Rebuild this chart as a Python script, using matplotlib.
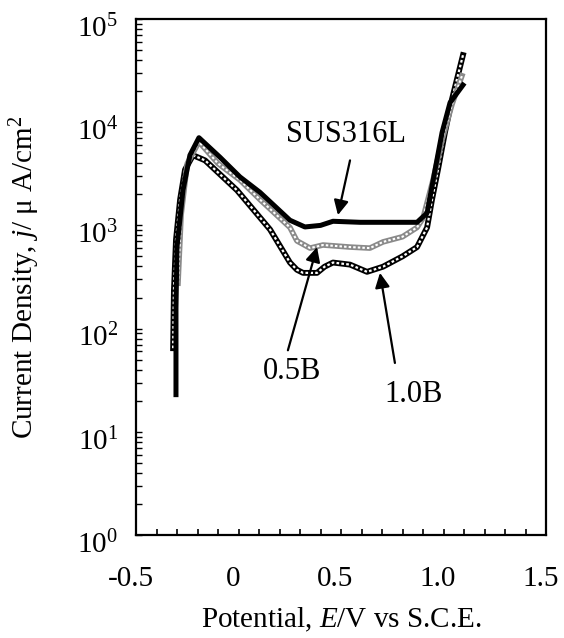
import numpy as np
import matplotlib
matplotlib.use("Agg")
import matplotlib.pyplot as plt
import matplotlib.transforms as mtransforms
from matplotlib.ticker import FixedLocator, LogLocator, NullFormatter

plt.rcParams["font.family"] = ["Liberation Serif", "DejaVu Serif"]
plt.rcParams["mathtext.fontset"] = "custom"
plt.rcParams["mathtext.rm"] = "Liberation Serif"
plt.rcParams["mathtext.it"] = "Liberation Serif:italic"

# --- data (potential in V vs SCE, current density in uA/cm2) ---
sus_E = [-0.305, -0.305, -0.300, -0.271, -0.237, -0.193, -0.090, 0.007, 0.105, 0.251,
         0.324, 0.400, 0.461, 0.593, 0.739, 0.871, 0.920, 0.959, 0.993, 1.032, 1.095]
sus_logj = [1.36, 2.20, 2.79, 3.34, 3.68, 3.85, 3.66, 3.47, 3.32, 3.05,
            2.985, 3.00, 3.04, 3.03, 3.03, 3.03, 3.12, 3.54, 3.90, 4.19, 4.36]

b05_E = [-0.295, -0.280, -0.250, -0.193, -0.100, 0.007, 0.105, 0.251, 0.285, 0.349,
         0.412, 0.544, 0.641, 0.705, 0.800, 0.871, 0.900, 0.949, 0.993, 1.041, 1.090]
b05_logj = [2.44, 3.10, 3.60, 3.81, 3.60, 3.44, 3.25, 2.98, 2.85, 2.78,
            2.81, 2.79, 2.78, 2.84, 2.89, 2.98, 3.07, 3.44, 3.83, 4.17, 4.45]

b10_E = [-0.319, -0.315, -0.305, -0.285, -0.261, -0.222, -0.163, -0.007, 0.154, 0.251,
         0.285, 0.315, 0.383, 0.420, 0.461, 0.544, 0.627, 0.705, 0.800, 0.871, 0.920,
         0.944, 0.973, 1.007, 1.041, 1.095]
b10_logj = [1.81, 2.37, 2.86, 3.25, 3.54, 3.68, 3.63, 3.34, 2.96, 2.64,
            2.57, 2.54, 2.54, 2.60, 2.64, 2.62, 2.55, 2.60, 2.70, 2.79, 2.98,
            3.25, 3.54, 3.90, 4.22, 4.65]

sus_j = 10 ** np.array(sus_logj)
b05_j = 10 ** np.array(b05_logj)
b10_j = 10 ** np.array(b10_logj)

fig = plt.figure(figsize=(5.64, 6.38), dpi=100)
ax = fig.add_axes([136 / 564, 1 - 535 / 638, 410 / 564, 516 / 638])

# 1.0B : hollow black markers -> black chain with white core
ax.plot(b10_E, b10_j, color="black", lw=4.2, solid_joinstyle="round", zorder=2)
ax.plot(b10_E, b10_j, color="white", lw=1.6, linestyle=(0, (1.2, 1.0)), zorder=3)
# 0.5B : grey hollow markers
ax.plot(b05_E, b05_j, color="#8a8a8a", lw=4.0, solid_joinstyle="round", zorder=4)
ax.plot(b05_E, b05_j, color="white", lw=1.5, linestyle=(0, (1.2, 1.0)), zorder=5)
# SUS316L : solid thick black
ax.plot(sus_E, sus_j, color="black", lw=3.6, solid_joinstyle="round", zorder=6)

ax.set_xlim(-0.5, 1.5)
ax.set_yscale("log")
ax.set_ylim(1, 1e5)

ax.xaxis.set_major_locator(FixedLocator([-0.5, 0, 0.5, 1.0, 1.5]))
ax.set_xticklabels(["-0.5", "0", "0.5", "1.0", "1.5"])
ax.xaxis.set_minor_locator(FixedLocator(np.round(np.arange(-0.4, 1.45, 0.1), 2)))
ax.yaxis.set_major_locator(FixedLocator([1, 10, 100, 1e3, 1e4, 1e5]))
ax.set_yticklabels([r"$10^{%d}$" % n for n in range(6)])
ax.yaxis.set_minor_locator(LogLocator(base=10, subs=np.arange(2, 10)))
ax.yaxis.set_minor_formatter(NullFormatter())

ax.tick_params(axis="x", which="both", direction="in", length=4, width=1.2,
               top=False, labelsize=21, pad=22)
ax.tick_params(axis="y", which="both", direction="in", length=4, width=1.0,
               right=False, labelsize=21, pad=13)
for s in ax.spines.values():
    s.set_linewidth(1.6)

# tick labels in the original sit a little left / below their ticks
xoff = mtransforms.ScaledTranslation(-4 / 72, 0, fig.dpi_scale_trans)
for lab in ax.get_xticklabels():
    lab.set_transform(lab.get_transform() + xoff)
yoff = mtransforms.ScaledTranslation(0, -5 / 72, fig.dpi_scale_trans)
for lab in ax.get_yticklabels():
    lab.set_transform(lab.get_transform() + yoff)

ax.set_xlabel(r"Potential, $E$/V vs S.C.E.", fontsize=21)
ax.xaxis.set_label_coords(0.5, -0.138)
ax.set_ylabel(r"Current Density, $j$/ μ A/cm$^2$", fontsize=21)
ax.yaxis.set_label_coords(-0.229, 0.5)

arrow = dict(arrowstyle="-|>", color="black", lw=1.6, mutation_scale=22,
             shrinkA=0, shrinkB=0)
ax.annotate("", xy=(0.485, 10 ** 3.10), xytext=(0.544, 10 ** 3.63), arrowprops=arrow, zorder=7)
ax.text(0.523, 10 ** 3.876, "SUS316L", fontsize=22, ha="center", va="center")
ax.annotate("", xy=(0.383, 10 ** 2.79), xytext=(0.241, 10 ** 1.79), arrowprops=arrow, zorder=7)
ax.text(0.261, 10 ** 1.589, "0.5B", fontsize=22, ha="center", va="center")
ax.annotate("", xy=(0.690, 10 ** 2.54), xytext=(0.763, 10 ** 1.667), arrowprops=arrow, zorder=7)
ax.text(0.856, 10 ** 1.366, "1.0B", fontsize=22, ha="center", va="center")

fig.savefig("out.png", dpi=100)
